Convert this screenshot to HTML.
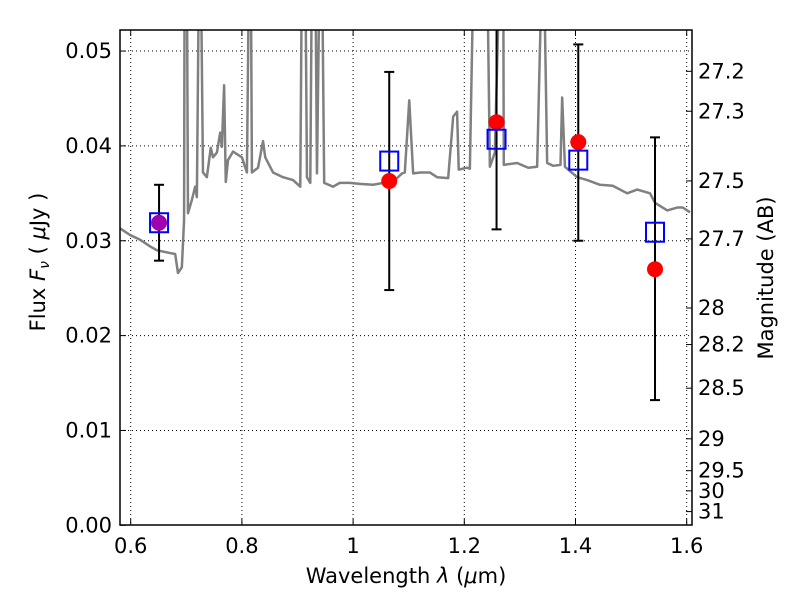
<!DOCTYPE html>
<html><head><meta charset="utf-8"><style>
body{margin:0;background:#fff;font-family:"Liberation Sans","DejaVu Sans",sans-serif}
svg text{font-family:"DejaVu Sans","Liberation Sans",sans-serif}
</style></head><body>
<svg id="chart" width="800" height="600" xmlns="http://www.w3.org/2000/svg"></svg>
<script>
const specLam=[0.581,0.599,0.617,0.635,0.647,0.671,0.680,0.685,0.692,0.696,0.697,0.701,0.703,0.710,0.716,0.719,0.723,0.726,0.730,0.737,0.744,0.748,0.755,0.761,0.764,0.768,0.771,0.775,0.784,0.800,0.809,0.813,0.816,0.818,0.829,0.838,0.842,0.856,0.874,0.892,0.905,0.908,0.914,0.917,0.923,0.926,0.932,0.935,0.940,0.944,0.948,0.964,0.976,0.994,1.012,1.036,1.054,1.079,1.088,1.093,1.101,1.108,1.121,1.138,1.151,1.171,1.180,1.187,1.190,1.205,1.210,1.217,1.241,1.246,1.255,1.264,1.270,1.271,1.295,1.315,1.331,1.340,1.343,1.349,1.360,1.373,1.376,1.381,1.403,1.421,1.444,1.467,1.493,1.511,1.534,1.543,1.565,1.583,1.593,1.606];
const specFlux=[0.0313,0.0306,0.0301,0.0294,0.0290,0.0287,0.0286,0.0266,0.0272,0.0322,0.06,0.06,0.0329,0.0343,0.0357,0.0346,0.06,0.06,0.0372,0.0367,0.0398,0.0388,0.0393,0.0414,0.0399,0.0464,0.0362,0.0385,0.0394,0.0388,0.0372,0.06,0.06,0.0372,0.0377,0.0405,0.0388,0.0372,0.0367,0.0364,0.0357,0.06,0.06,0.0367,0.0361,0.06,0.06,0.0371,0.06,0.06,0.0361,0.0357,0.0361,0.0361,0.0360,0.0359,0.0361,0.0366,0.0371,0.0372,0.0448,0.0371,0.0372,0.0372,0.0367,0.0366,0.0431,0.0436,0.0375,0.0377,0.0376,0.06,0.06,0.0378,0.0393,0.06,0.06,0.0380,0.0382,0.0377,0.0378,0.06,0.06,0.0382,0.0379,0.0380,0.0451,0.0378,0.0367,0.0364,0.0359,0.0358,0.0350,0.0354,0.0350,0.0340,0.0332,0.0335,0.0335,0.0330];
const ptLam=[0.651,1.065,1.258,1.405,1.543];
const obsFlux=[0.0319,0.0363,0.0425,0.0404,0.0270];
const obsErrHi=[0.0359,0.0478,0.0560,0.0507,0.0409];
const obsErrLo=[0.0279,0.0248,0.0312,0.0300,0.0132];
const modelFlux=[0.0319,0.0384,0.0407,0.0385,0.0309];
const xTicks=[0.6,0.8,1.0,1.2,1.4,1.6];
const xTickLabels=["0.6","0.8","1","1.2","1.4","1.6"];
const yTicks=[0,0.01,0.02,0.03,0.04,0.05];
const yTickLabels=["0.00","0.01","0.02","0.03","0.04","0.05"];
const magTicks=[27.2,27.3,27.5,27.7,28,28.2,28.5,29,29.5,30,31];
const magLabels=["27.2","27.3","27.5","27.7","28","28.2","28.5","29","29.5","30","31"];

const L=120,R=692,T=30,B=525;
const x=v=>130.7+(v-0.6)*556;
const y=v=>525.3-v*9485;
const svg=document.getElementById('chart');
const NS='http://www.w3.org/2000/svg';
function mk(tag,attrs,parent){const e=document.createElementNS(NS,tag);for(const k in attrs)e.setAttribute(k,attrs[k]);(parent||svg).appendChild(e);return e;}
const cp=mk('clipPath',{id:'clip'});
mk('rect',{x:L,y:T,width:R-L,height:B-T},cp);

xTicks.forEach((v,i)=>{
 const g=mk('line',{x1:x(v),x2:x(v),y1:T,y2:B,stroke:'#000','stroke-width':1,'stroke-dasharray':'1,3'});
 
 mk('line',{x1:x(v),x2:x(v),y1:B,y2:B-6,stroke:'#000'});mk('line',{x1:x(v),x2:x(v),y1:T,y2:T+6,stroke:'#000'});
 const t=mk('text',{x:x(v),y:553,'font-size':21,'text-anchor':'middle'});t.textContent=xTickLabels[i];
 
});
yTicks.forEach((v,i)=>{
 if(v>0){const g=mk('line',{x1:L,x2:R,y1:y(v),y2:y(v),stroke:'#000','stroke-width':1,'stroke-dasharray':'1,3'});
 }
 mk('line',{x1:L,x2:L+6,y1:y(v),y2:y(v),stroke:'#000'});
 const t=mk('text',{x:112,y:y(v)+7,'font-size':21,'text-anchor':'end'});t.textContent=yTickLabels[i];
 
});
magTicks.forEach((m,i)=>{
 const f=Math.pow(10,(23.9-m)/2.5);const yy=y(f);
 mk('line',{x1:R-6,x2:R,y1:yy,y2:yy,stroke:'#000'});
 const t=mk('text',{x:698,y:yy+7,'font-size':21});t.textContent=magLabels[i];
 
});
const g=mk('g',{'clip-path':'url(#clip)'});
const sp=mk('polyline',{points:specLam.map((l,i)=>x(l)+','+y(specFlux[i])).join(' '),fill:'none',stroke:'#808080','stroke-width':2.5,'stroke-linejoin':'round'},g);

ptLam.forEach((l,i)=>{
 const px=x(l);
 const e=mk('line',{x1:px,x2:px,y1:y(obsErrHi[i]),y2:y(obsErrLo[i]),stroke:'#000','stroke-width':2},g);
 
 [obsErrHi[i],obsErrLo[i]].forEach(v=>mk('line',{x1:px-5,x2:px+5,y1:y(v),y2:y(v),stroke:'#000','stroke-width':2},g));
 const c=mk('circle',{cx:px,cy:y(obsFlux[i]),r:8,fill:i===0?'#a000b0':'#ff0000'},g);
 
 const s=mk('rect',{x:px-9,y:y(modelFlux[i])-9.5,width:18,height:19,fill:'none',stroke:'#0000ff','stroke-width':2},g);
 
});
const fr=mk('rect',{x:L,y:T,width:R-L,height:B-T,fill:'none',stroke:'#000','stroke-width':1.5});

let t=mk('text',{x:406,y:583,'font-size':21,'text-anchor':'middle'});
t.innerHTML='Wavelength  <tspan font-style="italic">λ</tspan> (<tspan font-style="italic">μ</tspan>m)';

t=mk('text',{x:45,y:262,'font-size':21,'text-anchor':'middle',transform:'rotate(-90 45 262)'});
t.innerHTML='Flux  <tspan font-style="italic">F</tspan><tspan font-style="italic" font-size="14" dy="4">ν</tspan><tspan dy="-4"> (  </tspan><tspan font-style="italic">μ</tspan>Jy )';

t=mk('text',{x:773,y:278,'font-size':21,'text-anchor':'middle',transform:'rotate(-90 773 278)'});
t.textContent='Magnitude (AB)';

</script>
</body></html>
